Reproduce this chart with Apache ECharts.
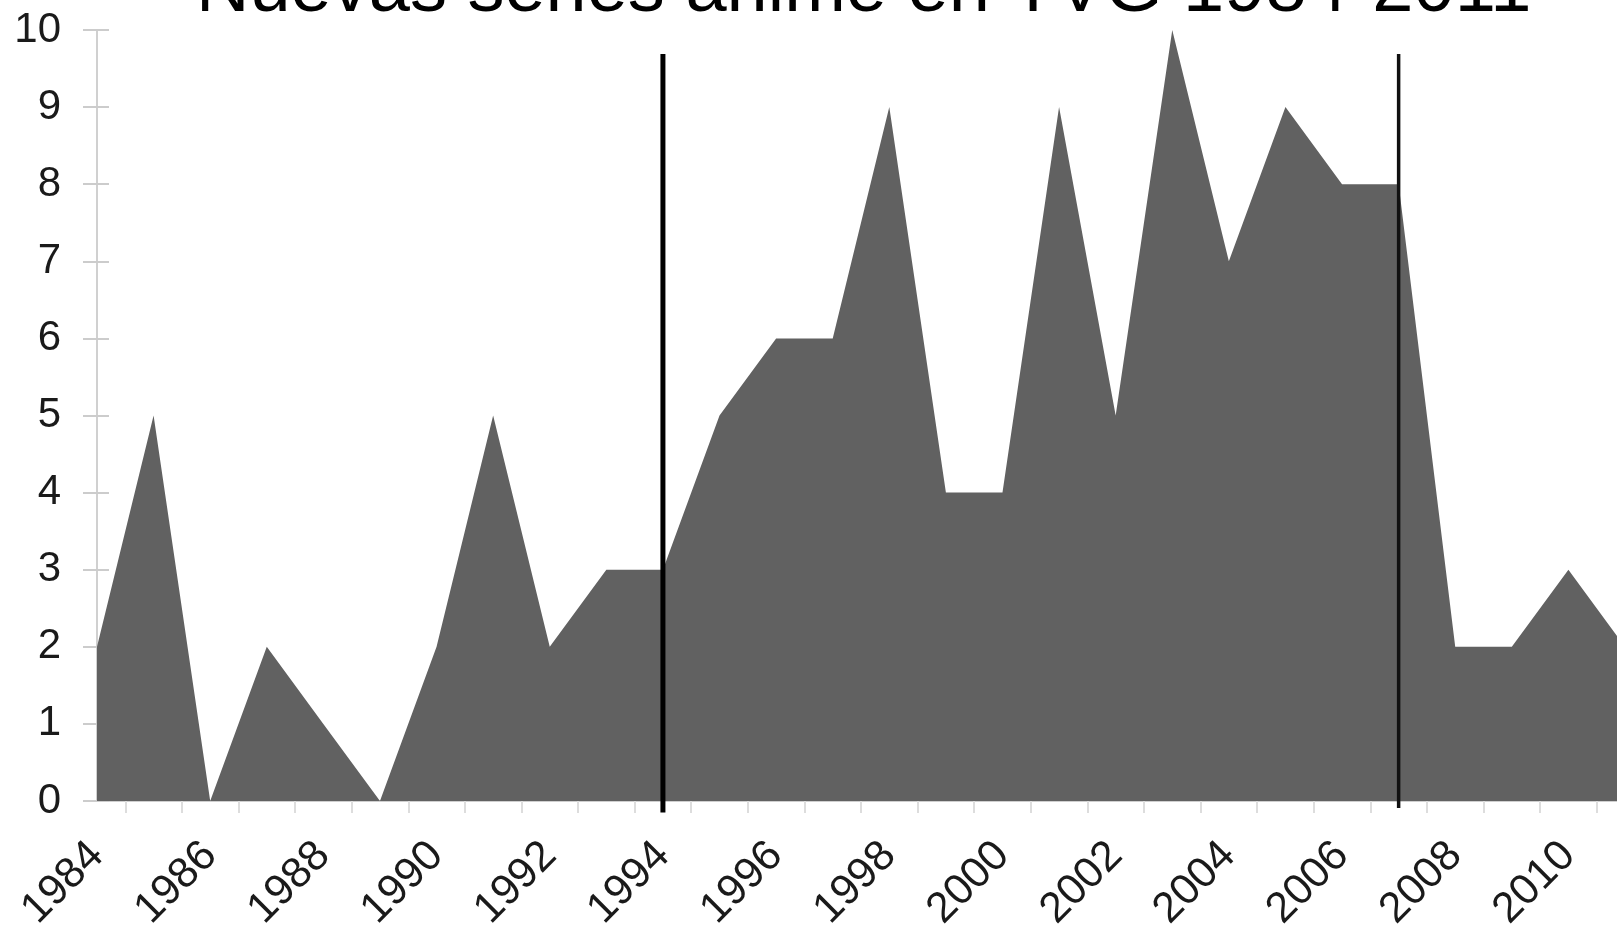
<!DOCTYPE html>
<html>
<head>
<meta charset="utf-8">
<title>Nuevas series anime en TVG 1984-2011</title>
<script src="https://cdn.jsdelivr.net/npm/echarts@6/dist/echarts.min.js"></script>
<style>
  html, body { margin: 0; padding: 0; background: #fff; }
  #chart { width: 1617px; height: 932px; }
</style>
</head>
<body>
<div id="chart"></div>
<script>
// data
const titleText = 'Nuevas series anime en TVG 1984-2011';
const years = [1984, 1985, 1986, 1987, 1988, 1989, 1990, 1991, 1992, 1993, 1994, 1995, 1996, 1997,
  1998, 1999, 2000, 2001, 2002, 2003, 2004, 2005, 2006, 2007, 2008, 2009, 2010, 2011];
const newSeries = [2, 5, 0, 2, 1, 0, 2, 5, 2, 3, 3, 5, 6, 6,
  9, 4, 4, 9, 5, 10, 7, 9, 8, 8, 2, 2, 3, 2];
// the two black divider lines: year, top value, bottom value
const markerYears = [1994, 2007];
const markerTop = [9.69, 9.69];
const markerBottom = [-0.15, -0.09];
const markerWidth = [5, 3.5];

const labelFont = 'Liberation Sans';

const chartDom = document.getElementById('chart');
const chart = echarts.init(chartDom);

const seriesData = years.map((y, i) => [y, newSeries[i]]);

// divider lines as plain two-point line series, so they can run a bit below the axis
const markerSeries = markerYears.map((yr, i) => ({
  type: 'line',
  data: [[yr, markerTop[i]], [yr, markerBottom[i]]],
  showSymbol: false,
  clip: false,
  silent: true,
  z: 5,
  lineStyle: { color: i === 0 ? '#000' : '#111', width: markerWidth[i] }
}));

const option = {
  animation: false,
  title: {
    text: titleText,
    left: 191,
    top: -51,
    textStyle: {
      fontFamily: labelFont,
      fontSize: 74,
      fontWeight: 'normal',
      color: '#000'
    }
  },
  // plot runs past the right edge, 2011 is cut off like in the source image
  grid: {
    left: 97,
    width: 1528,
    top: 30,
    bottom: 131,
    outerBoundsMode: 'none'
  },
  xAxis: {
    type: 'value',
    min: years[0],
    max: years[years.length - 1],
    interval: 1,
    axisLine: { show: true, lineStyle: { color: '#cfcfcf', width: 2 } },
    axisTick: { show: false },
    minorTick: { show: true, splitNumber: 2, length: 12, lineStyle: { color: '#dddddd', width: 2 } },
    splitLine: { show: false },
    axisLabel: {
      rotate: 45,
      margin: 48,
      fontFamily: labelFont,
      fontSize: 43,
      color: '#1a1a1a',
      formatter: v => (v % 2 === 0 ? String(v) : '')
    }
  },
  yAxis: [{
    type: 'value',
    min: 0,
    max: 10,
    interval: 1,
    axisLine: { show: true, lineStyle: { color: '#d0d0d0', width: 2 } },
    axisTick: { show: true, length: 14, lineStyle: { color: '#cccccc', width: 2 } },
    splitLine: { show: false },
    axisLabel: {
      margin: 36,
      fontFamily: labelFont,
      fontSize: 42,
      color: '#1a1a1a'
    }
  }, {
    // inner half of the ticks, they cross the axis line
    type: 'value',
    min: 0,
    max: 10,
    interval: 1,
    position: 'left',
    axisLine: { show: false },
    axisTick: { show: true, inside: true, length: 12, lineStyle: { color: '#cccccc', width: 2 } },
    axisLabel: { show: false },
    splitLine: { show: false }
  }],
  series: [{
    type: 'line',
    data: seriesData,
    showSymbol: false,
    clip: false,
    lineStyle: { width: 0 },
    areaStyle: { color: '#616161', opacity: 1 }
  }].concat(markerSeries)
};

chart.setOption(option);
</script>
</body>
</html>
